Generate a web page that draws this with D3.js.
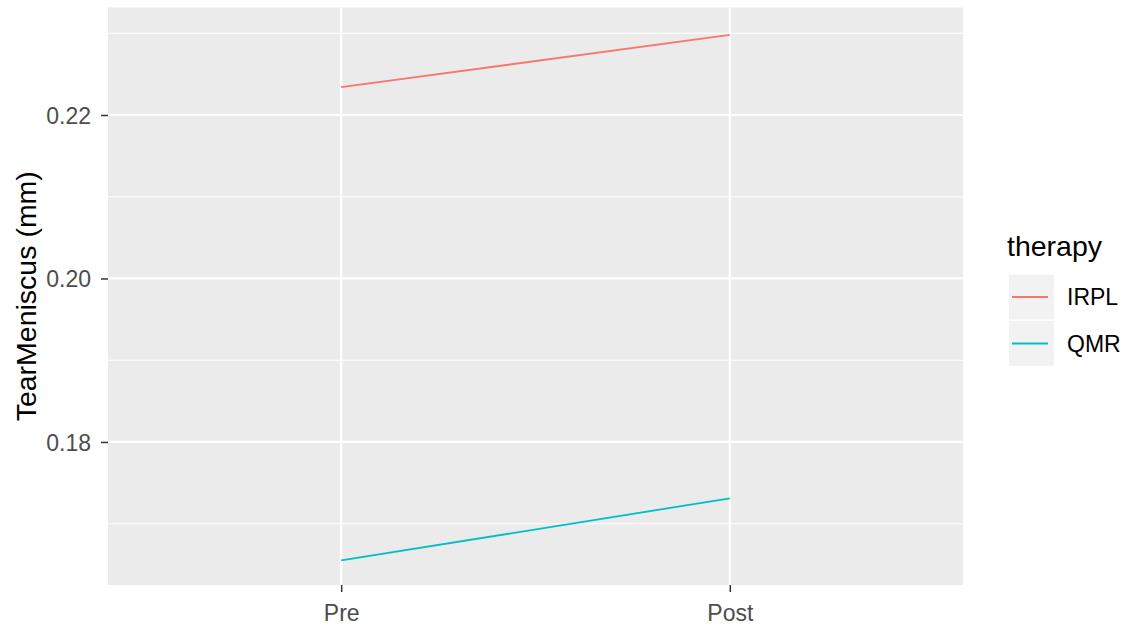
<!DOCTYPE html>
<html><head><meta charset="utf-8">
<script src="https://cdn.jsdelivr.net/npm/d3@7"></script>
<style>body{margin:0;background:#fff}svg{display:block}text{font-family:"Liberation Sans",Arial,sans-serif}</style>
</head><body>
<svg id="c" width="1131" height="630"></svg>
<script>
const timepoints = ["Pre", "Post"];
const seriesNames = ["IRPL", "QMR"];
const irplValues = [0.2234, 0.2298];
const qmrValues = [0.1655, 0.1731];
const yMajorTicks = [0.18, 0.20, 0.22];
const yMinorTicks = [0.17, 0.19, 0.21, 0.23];
const yLimits = [0.1625, 0.23315];
const seriesColors = ["#F8766D", "#00BFC4"];

const svg = d3.select("#c");
const panel = {left:108, right:963, top:7.5, bottom:585};

const x = d3.scalePoint().domain(timepoints).range([panel.left, panel.right]).padding(0.6);
const y = d3.scaleLinear().domain(yLimits).range([panel.bottom, panel.top]);

svg.append("rect").attr("x",panel.left).attr("y",panel.top)
  .attr("width",panel.right-panel.left).attr("height",panel.bottom-panel.top).attr("fill","#EBEBEB");

const g = svg.append("g");
g.selectAll(".minor").data(yMinorTicks.filter(v=>y(v)>=panel.top && y(v)<=panel.bottom)).join("line")
  .attr("x1",panel.left).attr("x2",panel.right).attr("y1",d=>y(d)).attr("y2",d=>y(d))
  .attr("stroke","#fff").attr("stroke-width",1.1);
g.selectAll(".major").data(yMajorTicks).join("line")
  .attr("x1",panel.left).attr("x2",panel.right).attr("y1",d=>y(d)).attr("y2",d=>y(d))
  .attr("stroke","#fff").attr("stroke-width",2.2);
g.selectAll(".vmajor").data(timepoints).join("line")
  .attr("y1",panel.top).attr("y2",panel.bottom).attr("x1",d=>x(d)).attr("x2",d=>x(d))
  .attr("stroke","#fff").attr("stroke-width",2.2);

const series = [irplValues, qmrValues];
const line = d3.line().x((d,i)=>x(timepoints[i])).y(d=>y(d));
svg.selectAll(".series").data(series).join("path")
  .attr("d", d=>line(d)).attr("fill","none")
  .attr("stroke",(d,i)=>seriesColors[i]).attr("stroke-width",1.8);

// axes
const yAxis = d3.axisLeft(y).tickValues(yMajorTicks).tickSize(7).tickPadding(10).tickFormat(d3.format(".2f"));
const ya = svg.append("g").attr("transform",`translate(${panel.left},0)`).call(yAxis);
ya.select(".domain").remove();
ya.selectAll(".tick line").attr("stroke","#333").attr("stroke-width",1.5);
ya.selectAll(".tick text").attr("fill","#4D4D4D").style("font-size","23px").attr("dy","0.36em");

const xAxis = d3.axisBottom(x).tickSize(7).tickPadding(9);
const xa = svg.append("g").attr("transform",`translate(0,${panel.bottom})`).call(xAxis);
xa.select(".domain").remove();
xa.selectAll(".tick line").attr("stroke","#333").attr("stroke-width",1.5);
xa.selectAll(".tick text").attr("fill","#4D4D4D").style("font-size","23px").attr("dy","0.85em");

svg.append("text").attr("transform",`translate(36,${(panel.top+panel.bottom)/2}) rotate(-90)`)
  .attr("text-anchor","middle").style("font-size","28.5px").attr("fill","#000").text("TearMeniscus (mm)");

// legend
const lg = svg.append("g");
lg.append("text").attr("x",1007).attr("y",256).style("font-size","28.5px").attr("fill","#000").text("therapy");
const keyY = [274, 320.5];
seriesNames.forEach((n,i)=>{
  lg.append("rect").attr("x",1008.5).attr("y",keyY[i]).attr("width",46).attr("height",46)
    .attr("fill","#F2F2F2").attr("stroke","#fff").attr("stroke-width",1);
  lg.append("line").attr("x1",1012).attr("x2",1048).attr("y1",keyY[i]+23).attr("y2",keyY[i]+23)
    .attr("stroke",seriesColors[i]).attr("stroke-width",1.8);
  lg.append("text").attr("x",1067).attr("y",keyY[i]+23).attr("dy","0.36em").style("font-size","23px")
    .attr("fill","#000").text(n);
});
</script>
</body></html>
